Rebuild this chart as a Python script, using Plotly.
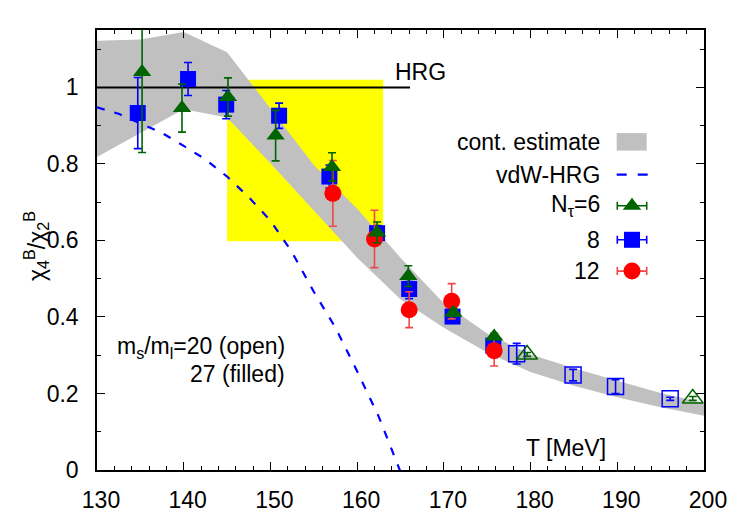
import plotly.graph_objects as go

# ---------------- data ----------------
# continuum estimate band
T_band = [130, 135, 140, 145, 150, 155, 160, 165, 170, 175, 180, 185, 190, 195, 200]
band_upper = [1.122, 1.125, 1.145, 1.092, 0.945, 0.797, 0.683, 0.555, 0.436, 0.357, 0.302, 0.266, 0.233, 0.201, 0.175]
band_lower = [0.818, 0.881, 0.943, 0.921, 0.802, 0.678, 0.555, 0.446, 0.372, 0.307, 0.256, 0.22, 0.19, 0.164, 0.142]

# vdW-HRG curve
T_vdw = [130, 132.5, 135, 137.5, 140, 142.5, 145, 147.5, 150, 152.5, 155, 157.5, 160, 162.5, 165]
v_vdw = [0.948, 0.931, 0.906, 0.881, 0.847, 0.812, 0.767, 0.713, 0.652, 0.569, 0.466, 0.372, 0.258, 0.139, -0.005]

# HRG value
T_hrg = [130, 166.1]
v_hrg = [1.0, 1.0]

# yellow region
T_yellow = [145, 163]
v_yellow = [0.598, 1.02]

# N_tau = 6 (filled, ms/ml=27)
T6 = [135.2, 139.8, 145.1, 150.6, 157.1, 162.3, 165.9, 171.1, 175.8]
v6 = [1.04, 0.946, 0.975, 0.874, 0.792, 0.621, 0.507, 0.411, 0.349]
e6 = [0.21, 0.063, 0.05, 0.066, 0.037, 0.027, 0.027, 0.01, 0.008]

# N_tau = 8 (filled)
T8 = [134.7, 140.5, 144.9, 151.0, 156.8, 162.3, 166.0, 171.0, 175.7]
v8 = [0.933, 1.022, 0.955, 0.926, 0.767, 0.619, 0.473, 0.401, 0.325]
e8 = [0.093, 0.043, 0.037, 0.033, 0.03, 0.02, 0.025, 0.015, 0.015]

# N_tau = 12 (filled)
T12 = [157.2, 162.0, 166.0, 170.9, 175.8]
v12 = [0.723, 0.604, 0.419, 0.441, 0.312]
e12 = [0.086, 0.075, 0.047, 0.046, 0.04]

# open symbols (ms/ml=20)
T8o = [178.4, 184.9, 189.8, 196.1]
v8o = [0.304, 0.248, 0.218, 0.186]
e8o = [0.027, 0.015, 0.018, 0.004]

T6o = [179.6, 198.7]
v6o = [0.302, 0.187]
e6o = [0.005, 0.005]

x_ticks = [130, 140, 150, 160, 170, 180, 190, 200]
y_ticks = [0, 0.2, 0.4, 0.6, 0.8, 1]

# ---------------- styling ----------------
FONT = "Liberation Sans, Arial, sans-serif"
FS = 23
GREEN = "#006400"
BLUE = "#0000ff"
RED = "#ff0000"
GREY = "#c0c0c0"

fig = go.Figure()

# yellow rectangle
fig.add_trace(go.Scatter(
    x=[T_yellow[0], T_yellow[1], T_yellow[1], T_yellow[0], T_yellow[0]],
    y=[v_yellow[0], v_yellow[0], v_yellow[1], v_yellow[1], v_yellow[0]],
    fill="toself", fillcolor="#ffff00", line=dict(width=0), mode="lines",
    hoverinfo="skip", showlegend=False))

# grey band
fig.add_trace(go.Scatter(
    x=T_band + T_band[::-1], y=band_upper + band_lower[::-1],
    fill="toself", fillcolor=GREY, line=dict(width=0), mode="lines",
    hoverinfo="skip", showlegend=False))

# HRG line
fig.add_trace(go.Scatter(x=T_hrg, y=v_hrg, mode="lines",
                         line=dict(color="black", width=2), showlegend=False))

# vdW-HRG
fig.add_trace(go.Scatter(x=T_vdw, y=v_vdw, mode="lines",
                         line=dict(color=BLUE, width=2.2, dash="8px,10px"),
                         showlegend=False))

def pts(x, y, e, color, symbol, size, ecolor, lw=0):
    return go.Scatter(
        x=x, y=y, mode="markers",
        marker=dict(color=color, symbol=symbol, size=size,
                    line=dict(width=lw, color=color)),
        error_y=dict(type="data", array=e, visible=True, color=ecolor,
                     thickness=1.6, width=4),
        showlegend=False, cliponaxis=True)

# open symbols
fig.add_trace(pts(T8o, v8o, e8o, BLUE, "square-open", 16, BLUE, 1.5))
fig.add_trace(pts(T6o, v6o, e6o, GREEN, "triangle-up-open", 18, GREEN, 1.5))
# filled
fig.add_trace(pts(T8, v8, e8, BLUE, "square", 16, BLUE))
fig.add_trace(pts(T12, v12, e12, RED, "circle", 17, "#f04848"))
fig.add_trace(pts(T6, v6, e6, GREEN, "triangle-up", 16, GREEN))

# ---------------- custom legend (hidden overlay axes, 0..1) ----------------
L = 97; R = 704; TOP = 30; BOT = 474
def px2x(px): return (px - L) / (R - L)
def py2y(py): return (BOT - py) / (BOT - TOP)

leg_x = px2x(632)
leg_half = px2x(646.7) - px2x(632)
rows_py = [143.3, 176, 207.3, 241.7, 273.3]
leg_labels = ["cont. estimate", "vdW-HRG", "N<sub>τ</sub>=6", "8", "12"]

for (py, color, sym, size, ecol) in [(rows_py[2], GREEN, "triangle-up", 16, GREEN),
                                     (rows_py[3], BLUE, "square", 16, BLUE),
                                     (rows_py[4], RED, "circle", 17, "#f04848")]:
    fig.add_trace(go.Scatter(
        x=[leg_x], y=[py2y(py)], mode="markers", xaxis="x2", yaxis="y2",
        marker=dict(color=color, symbol=sym, size=size, line=dict(width=0)),
        error_x=dict(type="data", array=[leg_half], visible=True, color=ecol,
                     thickness=1.6, width=4),
        showlegend=False, hoverinfo="skip"))

shapes = [
    dict(type="rect", xref="paper", yref="paper",
         x0=px2x(616.7), x1=px2x(646.7), y0=py2y(151.7), y1=py2y(134),
         fillcolor=GREY, line=dict(width=0)),
    dict(type="line", xref="paper", yref="paper",
         x0=px2x(616.7), x1=px2x(648), y0=py2y(rows_py[1]), y1=py2y(rows_py[1]),
         line=dict(color=BLUE, width=2.2, dash="10px,11px")),
]

annotations = []
for py, lab in zip(rows_py, leg_labels):
    annotations.append(dict(x=px2x(602), y=py2y(py), xref="paper", yref="paper",
                            text=lab, showarrow=False, xanchor="right", yanchor="middle",
                            font=dict(size=FS, family=FONT, color="black")))

annotations += [
    dict(x=164.1, y=1.04, xref="x", yref="y", text="HRG", showarrow=False,
         xanchor="left", yanchor="middle", font=dict(size=FS, family=FONT, color="black")),
    dict(x=px2x(608), y=py2y(452), xref="paper", yref="paper", text="T [MeV]",
         showarrow=False, xanchor="right", yanchor="middle",
         font=dict(size=FS, family=FONT, color="black")),
    dict(x=px2x(287), y=py2y(350), xref="paper", yref="paper",
         text="m<sub>s</sub>/m<sub>l</sub>=20 (open)", showarrow=False,
         xanchor="right", yanchor="middle", font=dict(size=FS, family=FONT, color="black")),
    dict(x=px2x(287), y=py2y(377), xref="paper", yref="paper",
         text="27 (filled)", showarrow=False,
         xanchor="right", yanchor="middle", font=dict(size=FS, family=FONT, color="black")),
    dict(x=px2x(36), y=py2y(248), xref="paper", yref="paper",
         text="χ<sub>4</sub><sup>B</sup>/χ<sub>2</sub><sup>B</sup>", showarrow=False,
         textangle=-90, xanchor="center", yanchor="middle",
         font=dict(size=FS, family=FONT, color="black")),
]

axis_common = dict(showline=True, linecolor="black", linewidth=1.5, mirror="ticks",
                   ticks="inside", ticklen=8, tickwidth=1.2, tickcolor="black",
                   showgrid=False, zeroline=False,
                   tickfont=dict(size=FS, family=FONT, color="black"))

fig.update_layout(
    width=750, height=525,
    margin=dict(l=L, r=750 - R, t=TOP, b=525 - BOT),
    paper_bgcolor="white", plot_bgcolor="white",
    font=dict(family=FONT, size=FS, color="black"),
    xaxis=dict(range=[130, 200], tickvals=x_ticks, ticklabelstandoff=9,
               ticklabelshift=4,
               minor=dict(dtick=2, ticklen=4, ticks="inside", tickcolor="black", tickwidth=1),
               **axis_common),
    yaxis=dict(range=[0, 1.15], tickvals=y_ticks, ticklabelstandoff=12,
               minor=dict(dtick=0.1, ticklen=4, ticks="inside", tickcolor="black", tickwidth=1),
               **axis_common),
    xaxis2=dict(range=[0, 1], overlaying="x", anchor="y2", visible=False),
    yaxis2=dict(range=[0, 1], overlaying="y", anchor="x2", visible=False),
    shapes=shapes, annotations=annotations, showlegend=False,
)

fig.write_html("out.html")
